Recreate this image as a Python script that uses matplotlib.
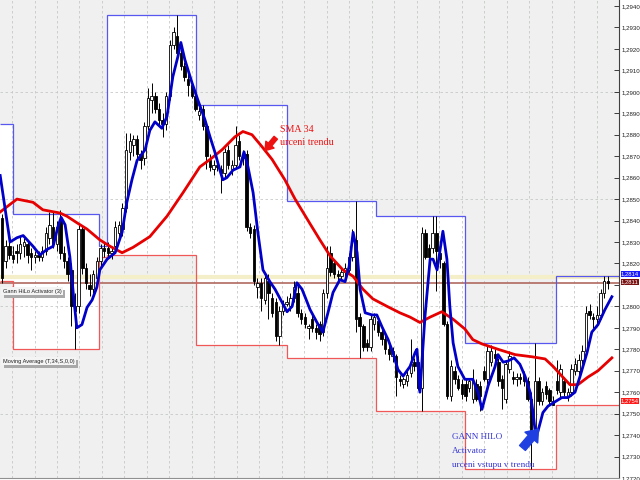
import numpy as np
import matplotlib
matplotlib.use('Agg')
import matplotlib.pyplot as plt
from matplotlib import transforms
from matplotlib.patches import FancyArrowPatch, Rectangle

plt.rcParams['font.family'] = ['Liberation Sans', 'DejaVu Sans']

# EURUSD-like candles, one per bar
opens = [
    1.2841, 1.2821, 1.2828, 1.2824, 1.2826, 1.2825, 1.2828, 1.2829, 1.2825, 1.2823,
    1.2824, 1.2823, 1.2826, 1.2832, 1.2837, 1.2829, 1.2840, 1.2825, 1.2821, 1.2817,
    1.2800, 1.2800, 1.2836, 1.2818, 1.2810, 1.2808, 1.2813, 1.2821, 1.2827, 1.2827,
    1.2825, 1.2828, 1.2834, 1.2836, 1.2846, 1.2872, 1.2875, 1.2878, 1.2871, 1.2869,
    1.2884, 1.2896, 1.2898, 1.2892, 1.2887, 1.2885, 1.2898, 1.2922, 1.2926, 1.2918,
    1.2912, 1.2906, 1.2903, 1.2898, 1.2889, 1.2892, 1.2884, 1.2868, 1.2864, 1.2866,
    1.2864, 1.2862, 1.2873, 1.2864, 1.2866, 1.2877, 1.2870, 1.2871, 1.2837, 1.2836,
    1.2809, 1.2811, 1.2803, 1.2812, 1.2804, 1.2802, 1.2786, 1.2798, 1.2801, 1.2800,
    1.2804, 1.2806, 1.2797, 1.2795, 1.2790, 1.2794, 1.2790, 1.2792, 1.2788, 1.2806,
    1.2825, 1.2820, 1.2815, 1.2814, 1.2816, 1.2817, 1.2823, 1.2831, 1.2795, 1.2791,
    1.2783, 1.2781, 1.2792, 1.2793, 1.2788, 1.2785, 1.2780, 1.2777, 1.2777, 1.2766,
    1.2764, 1.2765, 1.2769, 1.2774, 1.2774, 1.2762, 1.2834, 1.2827, 1.2827, 1.2834,
    1.2825, 1.2820, 1.2792, 1.2758, 1.2770, 1.2766, 1.2764, 1.2764, 1.2762, 1.2757,
    1.2764, 1.2763, 1.2770, 1.2766, 1.2774, 1.2778, 1.2774, 1.2766, 1.2757, 1.2771,
    1.2767, 1.2766, 1.2767, 1.2768, 1.2765, 1.2757, 1.2741, 1.2765, 1.2756, 1.2763,
    1.2761, 1.2756, 1.2765, 1.2760, 1.2765, 1.2758, 1.2760, 1.2770, 1.2770, 1.2775,
    1.2779, 1.2798, 1.2795, 1.2794, 1.2796, 1.2806, 1.2812,
]
highs = [
    1.2843, 1.2831, 1.2830, 1.2828, 1.2829, 1.2833, 1.2832, 1.2831, 1.2827, 1.2826,
    1.2826, 1.2828, 1.2837, 1.2844, 1.2844, 1.2840, 1.2845, 1.2828, 1.2823, 1.2820,
    1.2806, 1.2838, 1.2838, 1.2820, 1.2815, 1.2817, 1.2823, 1.2829, 1.2830, 1.2830,
    1.2828, 1.2840, 1.2840, 1.2848, 1.2881, 1.2881, 1.2880, 1.2880, 1.2873, 1.2886,
    1.2902, 1.2904, 1.2900, 1.2895, 1.2890, 1.2900, 1.2924, 1.2930, 1.2936, 1.2920,
    1.2914, 1.2910, 1.2905, 1.2900, 1.2893, 1.2894, 1.2885, 1.2871, 1.2868, 1.2868,
    1.2866, 1.2874, 1.2875, 1.2868, 1.2884, 1.2880, 1.2873, 1.2873, 1.2839, 1.2838,
    1.2813, 1.2813, 1.2815, 1.2815, 1.2806, 1.2804, 1.2800, 1.2803, 1.2805, 1.2806,
    1.2812, 1.2810, 1.2799, 1.2797, 1.2792, 1.2797, 1.2792, 1.2793, 1.2808, 1.2828,
    1.2828, 1.2822, 1.2817, 1.2818, 1.2820, 1.2825, 1.2836, 1.2849, 1.2797, 1.2792,
    1.2785, 1.2796, 1.2797, 1.2795, 1.2790, 1.2787, 1.2782, 1.2781, 1.2778, 1.2768,
    1.2767, 1.2770, 1.2785, 1.2776, 1.2777, 1.2837, 1.2836, 1.2829, 1.2842, 1.2842,
    1.2826, 1.2821, 1.2793, 1.2775, 1.2772, 1.2768, 1.2766, 1.2766, 1.2766, 1.2771,
    1.2766, 1.2765, 1.2772, 1.2782, 1.2782, 1.2780, 1.2776, 1.2768, 1.2775, 1.2779,
    1.2770, 1.2769, 1.2769, 1.2770, 1.2767, 1.2760, 1.2783, 1.2767, 1.2762, 1.2765,
    1.2762, 1.2758, 1.2775, 1.2773, 1.2767, 1.2762, 1.2773, 1.2776, 1.2778, 1.2782,
    1.2800, 1.2801, 1.2797, 1.2800, 1.2808, 1.2814, 1.2814,
]
lows = [
    1.2811, 1.2818, 1.2822, 1.2820, 1.2820, 1.2822, 1.2823, 1.2820, 1.2817, 1.2820,
    1.2821, 1.2821, 1.2824, 1.2829, 1.2827, 1.2826, 1.2822, 1.2818, 1.2812, 1.2791,
    1.2780, 1.2797, 1.2815, 1.2808, 1.2805, 1.2806, 1.2811, 1.2818, 1.2823, 1.2823,
    1.2822, 1.2825, 1.2830, 1.2833, 1.2844, 1.2868, 1.2870, 1.2869, 1.2864, 1.2866,
    1.2882, 1.2890, 1.2890, 1.2884, 1.2879, 1.2882, 1.2896, 1.2920, 1.2916, 1.2910,
    1.2905, 1.2898, 1.2897, 1.2891, 1.2887, 1.2882, 1.2864, 1.2863, 1.2861, 1.2863,
    1.2853, 1.2860, 1.2864, 1.2861, 1.2864, 1.2868, 1.2866, 1.2835, 1.2832, 1.2810,
    1.2804, 1.2798, 1.2801, 1.2794, 1.2795, 1.2784, 1.2782, 1.2796, 1.2800, 1.2798,
    1.2802, 1.2795, 1.2792, 1.2790, 1.2785, 1.2788, 1.2785, 1.2784, 1.2786, 1.2804,
    1.2814, 1.2813, 1.2812, 1.2812, 1.2814, 1.2815, 1.2821, 1.2788, 1.2776, 1.2779,
    1.2779, 1.2779, 1.2789, 1.2786, 1.2782, 1.2778, 1.2775, 1.2774, 1.2758, 1.2763,
    1.2762, 1.2763, 1.2767, 1.2770, 1.2761, 1.2751, 1.2822, 1.2820, 1.2825, 1.2807,
    1.2818, 1.2791, 1.2757, 1.2756, 1.2764, 1.2761, 1.2757, 1.2756, 1.2760, 1.2755,
    1.2756, 1.2751, 1.2765, 1.2764, 1.2772, 1.2774, 1.2763, 1.2752, 1.2755, 1.2769,
    1.2764, 1.2763, 1.2764, 1.2763, 1.2756, 1.2724, 1.2738, 1.2754, 1.2754, 1.2757,
    1.2754, 1.2754, 1.2759, 1.2757, 1.2758, 1.2756, 1.2758, 1.2768, 1.2768, 1.2773,
    1.2777, 1.2794, 1.2790, 1.2791, 1.2794, 1.2804, 1.2808,
]
closes = [
    1.2813, 1.2828, 1.2824, 1.2822, 1.2825, 1.2829, 1.2830, 1.2824, 1.2823, 1.2824,
    1.2823, 1.2826, 1.2834, 1.2838, 1.2829, 1.2837, 1.2825, 1.2821, 1.2815, 1.2800,
    1.2798, 1.2836, 1.2818, 1.2811, 1.2808, 1.2815, 1.2821, 1.2827, 1.2826, 1.2825,
    1.2826, 1.2837, 1.2838, 1.2846, 1.2873, 1.2877, 1.2878, 1.2871, 1.2868, 1.2884,
    1.2897, 1.2898, 1.2892, 1.2887, 1.2885, 1.2898, 1.2922, 1.2928, 1.2918, 1.2912,
    1.2907, 1.2903, 1.2898, 1.2892, 1.2891, 1.2884, 1.2870, 1.2865, 1.2866, 1.2865,
    1.2862, 1.2872, 1.2866, 1.2866, 1.2875, 1.2870, 1.2869, 1.2837, 1.2834, 1.2812,
    1.2811, 1.2804, 1.2813, 1.2806, 1.2797, 1.2786, 1.2798, 1.2801, 1.2802, 1.2804,
    1.2809, 1.2797, 1.2794, 1.2792, 1.2791, 1.2790, 1.2788, 1.2787, 1.2806, 1.2818,
    1.2816, 1.2815, 1.2814, 1.2816, 1.2818, 1.2823, 1.2831, 1.2794, 1.2791, 1.2781,
    1.2781, 1.2794, 1.2795, 1.2788, 1.2785, 1.2780, 1.2778, 1.2779, 1.2767, 1.2765,
    1.2766, 1.2768, 1.2773, 1.2772, 1.2762, 1.2834, 1.2823, 1.2823, 1.2834, 1.2826,
    1.2822, 1.2792, 1.2758, 1.2772, 1.2766, 1.2762, 1.2759, 1.2758, 1.2765, 1.2765,
    1.2757, 1.2758, 1.2766, 1.2779, 1.2779, 1.2776, 1.2765, 1.2762, 1.2773, 1.2777,
    1.2766, 1.2767, 1.2766, 1.2765, 1.2757, 1.2741, 1.2765, 1.2756, 1.2760, 1.2759,
    1.2756, 1.2754, 1.2761, 1.2771, 1.2760, 1.2760, 1.2771, 1.2773, 1.2775, 1.2779,
    1.2797, 1.2796, 1.2794, 1.2796, 1.2806, 1.2812, 1.2811,
]

# Gann HiLo boxes: bar edges, upper (blue) and lower (red) levels
box_edges = [-0.55, 3.0, 26.6, 28.8, 53.2, 78.1, 102.5, 126.8, 151.8, 169.05]
box_high = [1.2885, 1.2843, 1.2828, 1.2936, 1.2894, 1.2849, 1.2842, 1.2783, 1.2814]
box_low = [1.2812, 1.2780, 1.2823, 1.2824, 1.2782, 1.2776, 1.2751, 1.2724, 1.2754]

# Gann HiLo Activator line (bar position, price)
hilo_x = [-0.5, 2.2, 4.1, 5.8, 8.5, 10.4, 12.3, 14.0, 15.3, 16.2, 17.3, 18.6, 19.7,
          20.5, 21.9, 23.3, 24.7, 26.0, 26.8, 28.8, 31.0, 32.9, 34.2, 35.6, 37.0,
          39.2, 40.5, 41.9, 43.8, 45.2, 46.8, 48.2, 49.0, 50.1, 52.1, 53.7, 55.6,
          57.0, 58.4, 59.7, 60.5, 61.6, 63.3, 65.2, 66.3, 67.4, 68.8, 70.1, 71.5,
          73.4, 74.8, 76.7, 78.1, 79.5, 80.8, 82.2, 83.6, 84.4, 86.3, 87.9, 89.3,
          90.7, 92.6, 94.0, 95.1, 96.2, 97.3, 98.1, 99.5, 101.4, 102.7, 104.1, 105.8,
          107.1, 108.5, 109.9, 111.8, 113.2, 113.7, 114.5, 115.9, 117.3, 118.1, 119.2,
          120.8, 121.9, 122.7, 123.6, 124.9, 126.8, 129.0, 130.4, 131.5, 133.2, 135.1,
          135.9, 137.3, 138.6, 140.3, 141.9, 143.3, 144.7, 145.5, 146.0, 146.8, 148.2,
          149.6, 151.5, 153.4, 155.1, 157.0, 158.4, 160.3, 161.6, 163.3, 165.2, 167.1]
hilo_y = [1.28610, 1.28300, 1.28320, 1.28330, 1.28280, 1.28240, 1.28265, 1.28280,
          1.28370, 1.28415, 1.28380, 1.28230, 1.28030, 1.27900, 1.27915, 1.27995,
          1.28030, 1.28090, 1.28170, 1.28220, 1.28250, 1.28345, 1.28485, 1.28590,
          1.28680, 1.28730, 1.28820, 1.28860, 1.28830, 1.28885, 1.29070, 1.29165,
          1.29230, 1.29150, 1.29040, 1.28960, 1.28870, 1.28790, 1.28715, 1.28635,
          1.28590, 1.28600, 1.28635, 1.28650, 1.28720, 1.28650, 1.28530, 1.28345,
          1.28170, 1.28115, 1.28080, 1.28020, 1.27975, 1.28000, 1.28110, 1.28080,
          1.28020, 1.27985, 1.27925, 1.27880, 1.27970, 1.28065, 1.28125, 1.28115,
          1.28185, 1.28345, 1.28250, 1.28080, 1.27970, 1.27960, 1.27960, 1.27905,
          1.27845, 1.27785, 1.27705, 1.27675, 1.27720, 1.27785, 1.27800, 1.27600,
          1.27955, 1.28220, 1.28220, 1.28170, 1.28350, 1.28220, 1.28000, 1.27830,
          1.27720, 1.27660, 1.27660, 1.27600, 1.27520, 1.27630, 1.27720, 1.27775,
          1.27740, 1.27745, 1.27760, 1.27730, 1.27675, 1.27600, 1.27505, 1.27430,
          1.27415, 1.27505, 1.27535, 1.27555, 1.27575, 1.27575, 1.27600, 1.27675,
          1.27785, 1.27880, 1.27915, 1.27985, 1.28045]

# SMA 34 line (bar position, price)
sma_x = [-0.5, 4.1, 8.5, 11.2, 15.9, 17.8, 20.5, 23.3, 26.8, 29.6, 32.9, 35.9, 40.5,
         45.2, 49.6, 54.2, 57.0, 60.3, 63.8, 66.0, 68.5, 71.2, 74.0, 77.5, 80.3,
         84.4, 87.1, 89.9, 93.4, 96.2, 98.9, 101.6, 105.5, 109.0, 111.8, 114.5,
         117.3, 120.5, 123.6, 126.8, 129.0, 131.5, 135.9, 140.6, 145.2, 148.8, 151.0,
         153.4, 155.6, 157.8, 160.5, 163.3, 167.1]
sma_y = [1.28440, 1.28500, 1.28485, 1.28450, 1.28435, 1.28420, 1.28390, 1.28360,
         1.28310, 1.28280, 1.28250, 1.28275, 1.28325, 1.28420, 1.28530, 1.28650,
         1.28685, 1.28730, 1.28790, 1.28815, 1.28800, 1.28745, 1.28685, 1.28590,
         1.28500, 1.28385, 1.28310, 1.28235, 1.28170, 1.28140, 1.28080, 1.28035,
         1.28000, 1.27970, 1.27950, 1.27925, 1.27950, 1.27975, 1.27940, 1.27895,
         1.27845, 1.27825, 1.27800, 1.27775, 1.27765, 1.27755, 1.27720, 1.27675,
         1.27635, 1.27635, 1.27670, 1.27700, 1.27760]

price_ticks = [1.2720, 1.2730, 1.2740, 1.2750, 1.2760, 1.2770, 1.2780, 1.2790,
               1.2800, 1.2810, 1.2820, 1.2830, 1.2840, 1.2850, 1.2860, 1.2870,
               1.2880, 1.2890, 1.2900, 1.2910, 1.2920, 1.2930, 1.2940]
grid_prices = [1.2750, 1.2800, 1.2850, 1.2900]
bid, ask = 1.2811, 1.28135

o = np.array(opens)
h = np.array(highs)
l = np.array(lows)
c = np.array(closes)
x = np.arange(len(c))

fig = plt.figure(figsize=(6.4, 4.8), dpi=100)
fig.patch.set_facecolor('white')
ax = fig.add_axes([0, 2 / 480, 619 / 640, 478 / 480])
ax.set_facecolor('#f0f0f0')
ax.set_xlim(-0.55, 169.05)
ax.set_ylim(1.27205, 1.29428)

# white boxes between the HiLo levels
ax.stairs(box_high, box_edges, baseline=box_low, fill=True, color='white', zorder=0.5)

# grid
for p in grid_prices:
    ax.axhline(p, color='#c6cac6', lw=0.6, ls=(0, (3, 3)), zorder=1)
for gx in np.arange(2.74, 169.0, 6.164):
    ax.axvline(gx, color='#c6cac6', lw=0.6, ls=(0, (3, 3)), zorder=1)

ax.stairs(box_high, box_edges, baseline=None, color='#5858f0', lw=0.9, zorder=2)
ax.stairs(box_low, box_edges, baseline=None, color='#f05858', lw=0.9, zorder=2)

# ask / bid lines
ax.axhline(ask, color='#f4efc8', lw=3, zorder=1.5)
ax.axhline(bid, color='#b06a60', lw=1.2, zorder=1.6)

# candles
ax.vlines(x, l, h, color='black', lw=0.7, zorder=3)
up = c >= o
ax.bar(x[up], np.maximum(c[up] - o[up], 0.00002), bottom=o[up], width=0.66,
       facecolor='white', edgecolor='black', lw=0.6, zorder=4)
ax.bar(x[~up], o[~up] - c[~up], bottom=c[~up], width=0.66,
       facecolor='black', edgecolor='black', lw=0.6, zorder=4)

# indicators
ax.plot(sma_x, sma_y, color='#e60000', lw=2, zorder=5, solid_joinstyle='round')
ax.plot(hilo_x, hilo_y, color='#0000c8', lw=2, zorder=6, solid_joinstyle='round')

# indicator labels (shadow added after layout)
ind_labels = []
for lab, py in [('Gann HiLo Activator (3)', 1.28070),
                ('Moving Average (T,34,S,0,0)', 1.27744)]:
    t = ax.text(0.2, py, lab, fontsize=4.1, color='#202020', va='center',
                bbox=dict(boxstyle='square,pad=0.25', fc='#f4f4f4', ec='none'), zorder=8)
    ind_labels.append(t)

# annotations
serif = ['Liberation Serif', 'DejaVu Serif']
ax.text(76.2, 1.28823, 'SMA 34', family=serif, fontsize=7.2, color='#ee1111',
        va='center', zorder=9)
ax.text(76.2, 1.28763, 'urceni trendu', family=serif, fontsize=7.2, color='#ee1111',
        va='center', zorder=9)
ax.add_patch(FancyArrowPatch((75.0, 1.28786), (72.05, 1.28726),
                             arrowstyle='simple,head_length=0.8,head_width=1.1,tail_width=0.45',
                             mutation_scale=7, color='#ee1111', shrinkA=0, shrinkB=0, zorder=9))

for txt, py in [('GANN HILO', 1.27391), ('Activator', 1.27326),
                ('urceni vstupu v trendu', 1.27261)]:
    ax.text(123.3, py, txt, family=serif, fontsize=6.6, color='#3434d4',
            va='center', zorder=9)
ax.add_patch(FancyArrowPatch((142.6, 1.27340), (147.0, 1.27428),
                             arrowstyle='simple,head_length=0.8,head_width=1.2,tail_width=0.55',
                             mutation_scale=10, color='#1f3fe0', shrinkA=0, shrinkB=0, zorder=9))

# axes
ax.set_xticks([])
ax.yaxis.tick_right()
ax.set_yticks(price_ticks)
# 1,2810 sits under the bid tag in the terminal
ax.set_yticklabels(['' if abs(t - bid) < 0.0003 else f'{t:.4f}'.replace('.', ',')
                    for t in price_ticks])
ax.tick_params(axis='y', direction='in', length=3.5, width=0.6, colors='#202020',
               labelsize=4.4, pad=1.5)
for side in ['left', 'top']:
    ax.spines[side].set_visible(False)
ax.spines['right'].set_color('#404040')
ax.spines['right'].set_linewidth(0.8)
ax.spines['bottom'].set_color('#909090')
ax.spines['bottom'].set_linewidth(0.8)

# price tags on the scale
tag_tr = transforms.blended_transform_factory(fig.transFigure, ax.transData)
for price, ypos, fc in [(1.2814, 1.28152, '#1a1aff'), (1.2811, 1.28114, '#7a1212'),
                        (1.2754, 1.27560, '#ff1a1a')]:
    ax.text(621 / 640, ypos, f'{price:.4f}'.replace('.', ','), transform=tag_tr,
            fontsize=4.2, color='white', va='center', ha='left', zorder=10,
            bbox=dict(boxstyle='square,pad=0.08', fc=fc, ec='none'))

# drop shadows under the indicator labels
fig.canvas.draw()
renderer = fig.canvas.get_renderer()
for t in ind_labels:
    bb = t.get_bbox_patch().get_window_extent(renderer)
    fig.patches.append(Rectangle((bb.x0 + 2.5, bb.y0 - 3), bb.width, bb.height,
                                 transform=None, fc='#a9a9a9', ec='none', zorder=0))
# labels go back on top of their shadows
for t in ind_labels:
    t.remove()
    fig.texts.append(t)
    t.set_transform(ax.transData)
    t.set_figure(fig)

fig.savefig('out.png', dpi=100)
